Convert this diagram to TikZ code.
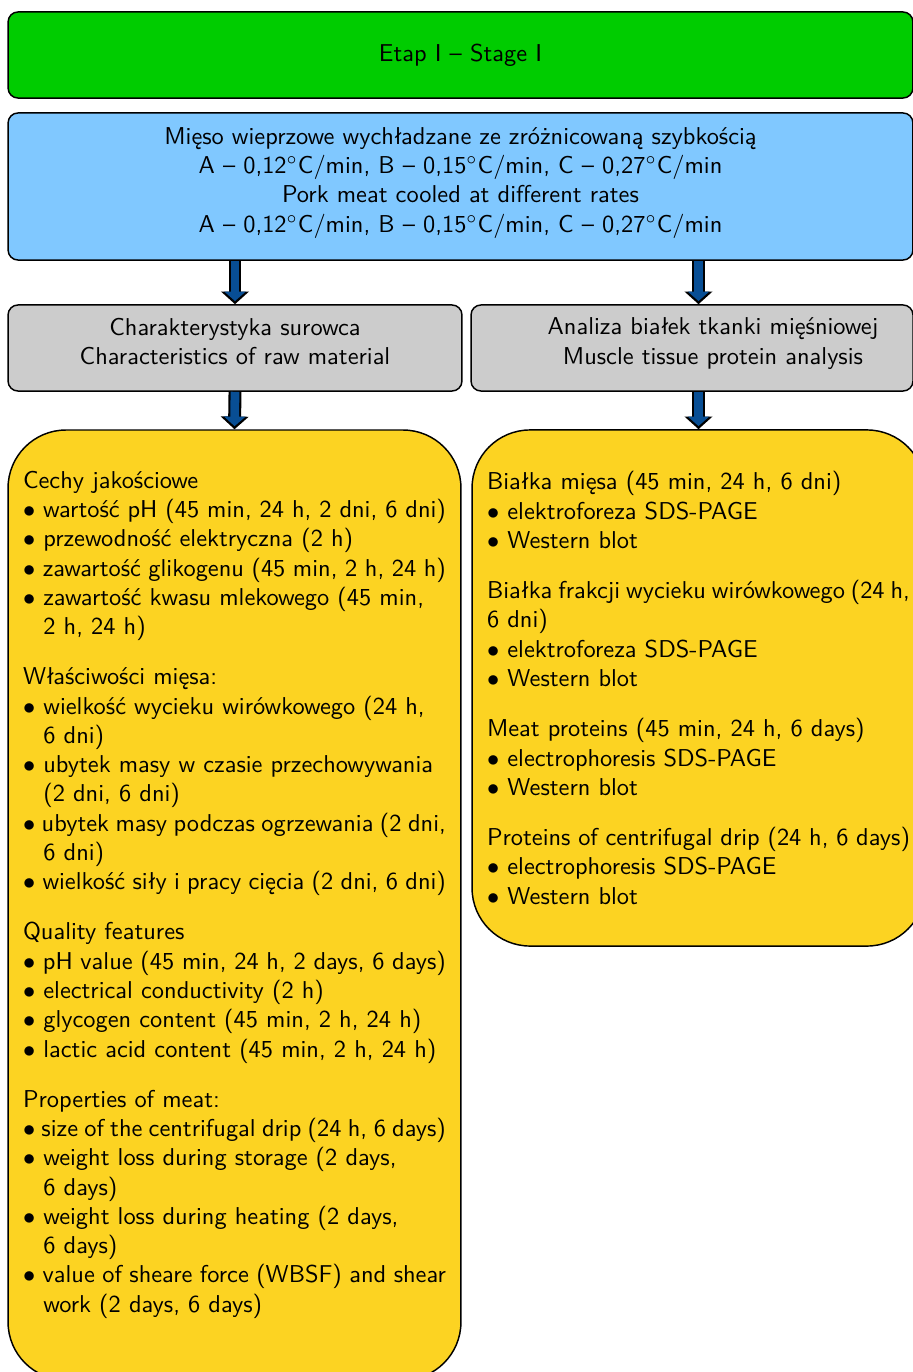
\documentclass[tikz,border=0pt]{standalone}
\usetikzlibrary{arrows.meta}

\definecolor{zielony}{RGB}{0,204,0}
\definecolor{niebieski}{RGB}{128,200,255}
\definecolor{szary}{RGB}{204,204,204}
\definecolor{zolty}{RGB}{252,211,34}
\definecolor{granat}{RGB}{8,78,148}

\newlength{\pktwciecie}
\newcommand{\pkt}{\par\settowidth{\pktwciecie}{$\bullet$\ }\hangindent=\pktwciecie\hangafter=1\noindent$\bullet$\ }
\newcommand{\odstep}{\par\vspace{8.6pt}}
\newcommand{\dol}{\rule[-5.6pt]{0pt}{0pt}}

\begin{document}
\begin{tikzpicture}[x=0.41pt, y=-0.41pt]
	\tikzset{blok/.style={draw=black, semithick, rounded corners=4.1pt, font=\sffamily, align=center, inner sep=0pt},
		etap/.style={blok, fill=zielony, minimum width=371pt, minimum height=35.3pt},
		opis/.style={blok, fill=niebieski, minimum width=371pt, minimum height=60.3pt},
		zakres/.style={blok, fill=szary, minimum height=35.3pt},
		lista/.style={draw=black, semithick, rounded corners=23.8pt, fill=zolty, font=\sffamily, text width=173.4pt, align=justify, inner xsep=6.15pt, inner ysep=0pt},
		strzalka/.style={draw=granat, line width=3.6pt, -{Triangle[width=8.6pt,length=3.9pt]}, shorten >=1.3pt,
			preaction={draw=black, line width=5.3pt, -{Triangle[width=11.2pt,length=5.2pt]}, shorten >=0pt}}};

	\useasboundingbox (0,0) rectangle (913,1372);

	\node[etap] (etap) at (460.5,  55) {Etap I -- Stage I};
	\node[opis] (mieso) at (460.5, 186.5) {Mięso wieprzowe wychładzane ze zróżnicowaną szybkością\\
		A -- 0,12$^\circ$C/min, B -- 0,15$^\circ$C/min, C -- 0,27$^\circ$C/min\\
		Pork meat cooled at different rates\\
		A -- 0,12$^\circ$C/min, B -- 0,15$^\circ$C/min, C -- 0,27$^\circ$C/min\dol};

	\node[zakres, minimum width=186.1pt] (surowiec) at (235, 348) {Charakterystyka surowca\\Characteristics of raw material\dol};
	\node[zakres, minimum width=181.2pt, label={[name=analizatekst, font=\sffamily, align=center, xshift=8.6pt]center:{Analiza białek tkanki mięśniowej\\Muscle tissue protein analysis\dol}}] (analiza) at (692, 348) {};

	\node[lista, minimum height=389.5pt] (cechy) at (234.5, 905) {Cechy jakościowe
		\pkt wartość pH (45~min, 24~h, 2~dni, 6~dni)
		\pkt przewodność elektryczna (2~h)
		\pkt zawartość glikogenu (45~min, 2~h, 24~h)
		\pkt zawartość kwasu mlekowego (45~min,\newline 2~h, 24~h)
		\odstep
		Właściwości mięsa:
		\pkt wielkość wycieku wirówkowego (24~h,\newline 6~dni)
		\pkt ubytek masy w czasie przechowywania\newline (2~dni, 6~dni)
		\pkt ubytek masy podczas ogrzewania (2~dni,\newline 6~dni)
		\pkt wielkość siły i pracy cięcia (2~dni, 6~dni)
		\odstep
		Quality features
		\pkt pH value (45~min, 24~h, 2~days, 6~days)
		\pkt electrical conductivity (2~h)
		\pkt glycogen content (45~min, 2~h, 24~h)
		\pkt lactic acid content (45~min, 2~h, 24~h)
		\odstep
		Properties of meat:
		\pkt size of the centrifugal drip (24~h, 6~days)
		\pkt weight loss during storage (2~days,\newline 6~days)
		\pkt weight loss during heating (2~days,\newline 6~days)
		\pkt value of sheare force (WBSF) and shear\newline work (2~days, 6~days)\rule[-11pt]{0pt}{0pt}\par};

	\node[lista, minimum height=211.6pt] (bialka) at (698.5, 688) {Białka mięsa (45~min, 24~h, 6~dni)
		\pkt elektroforeza SDS-PAGE
		\pkt Western blot
		\odstep
		Białka frakcji wycieku wirówkowego (24~h,\newline 6~dni)
		\pkt elektroforeza SDS-PAGE
		\pkt Western blot
		\odstep
		Meat proteins (45~min, 24~h, 6~days)
		\pkt electrophoresis SDS-PAGE
		\pkt Western blot
		\odstep
		Proteins of centrifugal drip (24~h, 6~days)
		\pkt electrophoresis SDS-PAGE
		\pkt Western blot\par};

	\draw[strzalka] (mieso.south -| surowiec.north) -- (surowiec.north);
	\draw[strzalka] (mieso.south -| bialka.north) -- (analiza.north -| bialka.north);
	\draw[strzalka] (surowiec.south) -- (cechy.north);
	\draw[strzalka] (analiza.south -| bialka.north) -- (bialka.north);

\end{tikzpicture}
\end{document}
